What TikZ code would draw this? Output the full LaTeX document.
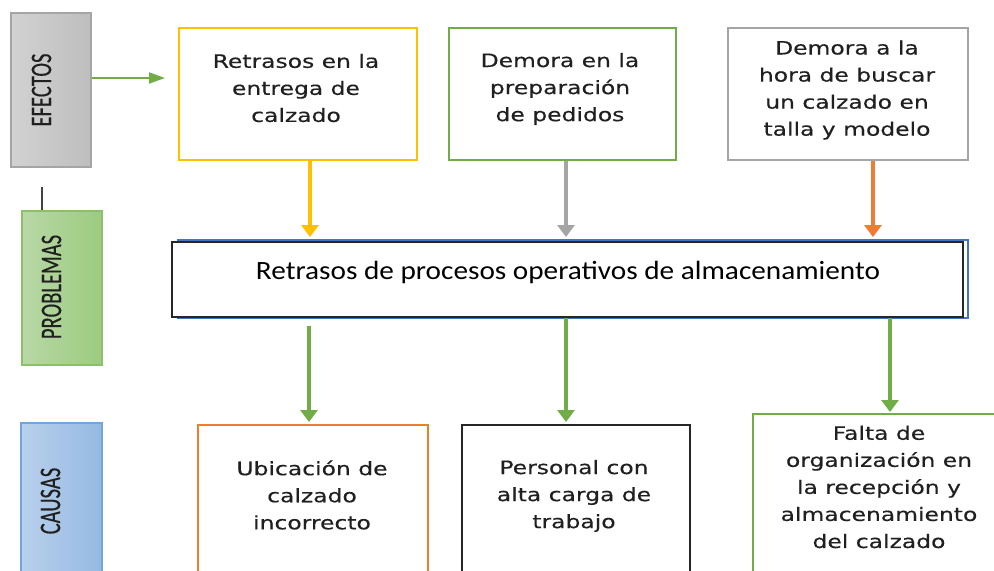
\documentclass[tikz,border=0pt]{standalone}
\usepackage{fontspec}
\usepackage{tikz}
\usetikzlibrary{positioning,arrows.meta}

\newfontfamily\boxfont[FakeStretch=1.27,FakeBold=0.4]{DejaVu Sans}
\newfontfamily\probfont[FakeStretch=1.11]{Carlito}
\newfontfamily\barfont[FakeStretch=0.69,FakeBold=0.3]{Carlito}

\definecolor{efyellow}{HTML}{FFC000}
\definecolor{efgreen}{HTML}{70AD47}
\definecolor{efgray}{HTML}{A5A5A5}
\definecolor{eforange}{HTML}{ED7D31}
\definecolor{pbblue}{HTML}{4472C4}
\definecolor{txtdark}{HTML}{202020}
\definecolor{bargrayL}{HTML}{D2D2D2}
\definecolor{bargrayR}{HTML}{BEBEBE}
\definecolor{bargreenL}{HTML}{B8D8A6}
\definecolor{bargreenR}{HTML}{9CCB80}
\definecolor{bargreenD}{HTML}{8CC068}
\definecolor{barblueL}{HTML}{B8D0EB}
\definecolor{barblueR}{HTML}{95B9E2}
\definecolor{barblueD}{HTML}{6FA6DC}

\tikzset{
  bar/.style={draw, line width=1pt, inner sep=0pt, minimum width=1.6cm},
  bartxt/.style={rotate=90, inner sep=0pt, text=txtdark,
    font=\barfont\fontsize{17}{19}\selectfont},
  box/.style={draw, line width=1.1pt, inner sep=0pt},
  boxtxt/.style={align=center, inner sep=0pt, text=txtdark,
    font=\boxfont\fontsize{10.5}{15.4}\selectfont},
  probtxt/.style={inner sep=0pt, font=\probfont\fontsize{15}{18}\selectfont},
  down/.style={line width=1.9pt, -{Triangle[width=0.34cm,length=0.24cm]}},
}

\begin{document}
\begin{tikzpicture}[x=0.02cm, y=-0.02cm]
\path[use as bounding box, clip] (0,0) rectangle (994,571);

% Bars
\node[bar, draw=efgray, left color=bargrayL, right color=bargrayR,
  minimum height=3.08cm] (ef) at (51,90) {};
\node[bar, draw=bargreenD, left color=bargreenL, right color=bargreenR,
  minimum height=3.08cm] (pb) at (62,288) {};
\node[bar, draw=barblueD, left color=barblueL, right color=barblueR,
  minimum width=1.62cm, minimum height=4.54cm] (ca) at (61.5,536.5) {};
\node[bartxt] (eft) at (41.5,90) {EFECTOS};
\node[bartxt] (pbt) at (51.5,287) {PROBLEMAS};
\node[bartxt] (cat) at (50.5,501) {CAUSAS};

\coordinate (tick) at (42,187);
\draw[line width=1.3pt, txtdark!85] (tick) -- (tick |- pb.north);

\coordinate (efend) at (165,78);
\draw[line width=1.1pt, efgreen, -{Triangle[width=0.22cm,length=0.32cm]}]
  (ef.east |- efend) -- (efend);

% Effects
\node[box, draw=efyellow, minimum width=4.76cm, minimum height=2.64cm] (e1) at (298,94) {};
\node[box, draw=efgreen, minimum width=4.54cm, minimum height=2.64cm] (e2) at (562.5,94) {};
\node[box, draw=efgray, minimum width=4.8cm, minimum height=2.64cm] (e3) at (848,94) {};
\node[boxtxt] (e1t) at (296,88) {Retrasos en la\\entrega de\\calzado};
\node[boxtxt] (e2t) at (560,89) {Demora en la\\preparación\\de pedidos};
\node[boxtxt] (e3t) at (847,90) {Demora a la\\hora de buscar\\un calzado en\\talla y modelo};

% Problem
\draw[pbblue, line width=1pt] (178,240) rectangle (968,318);
\node[box, draw=black!85, fill=white, minimum width=15.82cm, minimum height=1.5cm] (pm) at (567.5,279.5) {};
\node[probtxt, anchor=base] (pmt) at (568,279) {Retrasos de procesos operativos de almacenamiento};

% Causes
\node[box, draw=eforange, anchor=north, minimum width=4.6cm, minimum height=4cm] (c1) at (313,424) {};
\node[box, draw=black!85, anchor=north, minimum width=4.56cm, minimum height=4cm] (c2) at (576,424) {};
\node[box, draw=efgreen, anchor=north, minimum width=5.14cm, minimum height=4cm] (c3) at (881.5,413) {};
\node[boxtxt] (c1t) at (312,495) {Ubicación de\\calzado\\incorrecto};
\node[boxtxt] (c2t) at (574,496) {Personal con\\alta carga de\\trabajo};
\node[boxtxt] (c3t) at (879,487) {Falta de\\organización en\\la recepción y\\almacenamiento\\del calzado};

% Arrows
\draw[down, efyellow, shorten >=0.08cm] ([xshift=0.24cm]e1.south) -- ([xshift=0.24cm]e1.south |- pm.north);
\draw[down, efgray, shorten >=0.08cm] ([xshift=0.07cm]e2.south) -- ([xshift=0.07cm]e2.south |- pm.north);
\draw[down, eforange, shorten >=0.08cm] ([xshift=0.5cm]e3.south) -- ([xshift=0.5cm]e3.south |- pm.north);
\draw[down, efgreen, shorten <=0.16cm, shorten >=0.04cm] ([xshift=-0.08cm]c1.north |- pm.south) -- ([xshift=-0.08cm]c1.north);
\draw[down, efgreen, shorten >=0.04cm] ([xshift=-0.2cm]c2.north |- pm.south) -- ([xshift=-0.2cm]c2.north);
\draw[down, efgreen, shorten >=0.02cm] ([xshift=0.17cm]c3.north |- pm.south) -- ([xshift=0.17cm]c3.north);

\end{tikzpicture}
\end{document}
